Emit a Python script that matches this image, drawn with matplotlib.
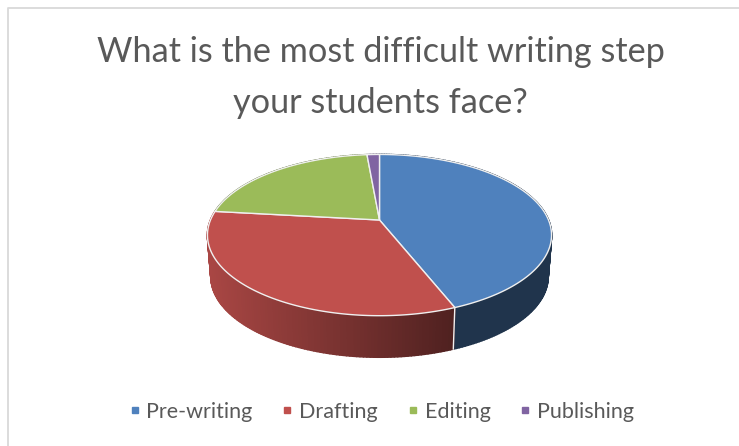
import numpy as np
import matplotlib
matplotlib.use("Agg")
import matplotlib.pyplot as plt
from matplotlib.collections import PolyCollection
from matplotlib.lines import Line2D
from matplotlib.colors import to_rgb

# Survey data
categories = ["Pre-writing", "Drafting", "Editing", "Publishing"]
shares = [44, 32.8, 21.8, 1.4]
colors = ["#4F81BD", "#C0504D", "#9BBB59", "#8064A2"]
title_lines = ["What is the most difficult writing step", "your students face?"]

# Wall shading for each slice: brightness at the left and right end of its wall
wall_shade = [(0.40, 0.40), (0.88, 0.41), (0.6, 0.6), (0.6, 0.6)]

# Pie geometry in figure pixels
CX, APEX_Y = 379.5, 220.0
AX_X, AX_Y, TILT = 169.0, 77.8, 0.187
DEPTH, BASE_SCALE = 41.5, 0.98
RIM_COLOR = "#F0F0F0"


def project(theta):
    """Perspective view of points on the unit rim; theta runs clockwise from the top."""
    x, y = np.sin(theta), np.cos(theta)
    w = 1 + TILT * y
    return CX + AX_X * x / w, APEX_Y - AX_Y * y / w


plt.rcParams["font.family"] = "Lato"
fig = plt.figure(figsize=(7.39, 4.46), dpi=100)
ax = fig.add_axes([0, 0, 1, 1])
ax.set_xlim(0, 739)
ax.set_ylim(446, 0)
ax.axis("off")

# Chart frame
ax.plot([7.5, 7.5, 739], [446, 8, 8], color="#D9D9D9", lw=1.3, zorder=1)

edges = 2 * np.pi * np.concatenate([[0], np.cumsum(shares)]) / np.sum(shares)

# Side walls, built from narrow quads so the shading can vary along the rim
for i, color in enumerate(colors):
    t = np.linspace(edges[i], edges[i + 1], max(int((edges[i + 1] - edges[i]) * 60), 2))
    x, y = project(t)
    bx = CX + BASE_SCALE * (x - CX)
    by = y + DEPTH
    quads = [[(x[k], y[k]), (x[k + 1], y[k + 1]), (bx[k + 1], by[k + 1]), (bx[k], by[k])]
             for k in range(len(t) - 1)]
    left, right = x.min(), x.max()
    frac = ((x[:-1] + x[1:]) / 2 - left) / max(right - left, 1)
    shade = wall_shade[i][0] + (wall_shade[i][1] - wall_shade[i][0]) * frac
    rgb = np.outer(shade, to_rgb(color))
    ax.add_collection(PolyCollection(quads, facecolors=rgb, edgecolors=rgb, linewidths=1.2, zorder=2))

# Divider on the wall where the first two slices meet
x0, y0 = project(edges[1])
ax.plot([x0, CX + BASE_SCALE * (x0 - CX)], [y0, y0 + DEPTH], color=RIM_COLOR, lw=1.0, zorder=3)

# Top face
for i, color in enumerate(colors):
    t = np.linspace(edges[i], edges[i + 1], 200)
    x, y = project(t)
    ax.fill(np.r_[CX, x], np.r_[APEX_Y, y], facecolor=color, edgecolor=RIM_COLOR,
            linewidth=1.0, joinstyle="round", zorder=4)

# Title
for line, yc in zip(title_lines, [52, 103]):
    ax.text(380.5, yc, line, ha="center", va="center", fontsize=24.7, color="#595959", zorder=5)

# Legend
handles = [Line2D([], [], linestyle="none", marker="s", markersize=4.5, color=c, label=n)
           for c, n in zip(colors, categories)]
ax.legend(handles=handles, loc="center", bbox_to_anchor=(379, 412), bbox_transform=ax.transData,
          ncols=4, frameon=False, fontsize=15.5, labelcolor="#595959", handletextpad=0.05,
          columnspacing=1.12, handlelength=1.0)

fig.savefig("out.png", dpi=100)
